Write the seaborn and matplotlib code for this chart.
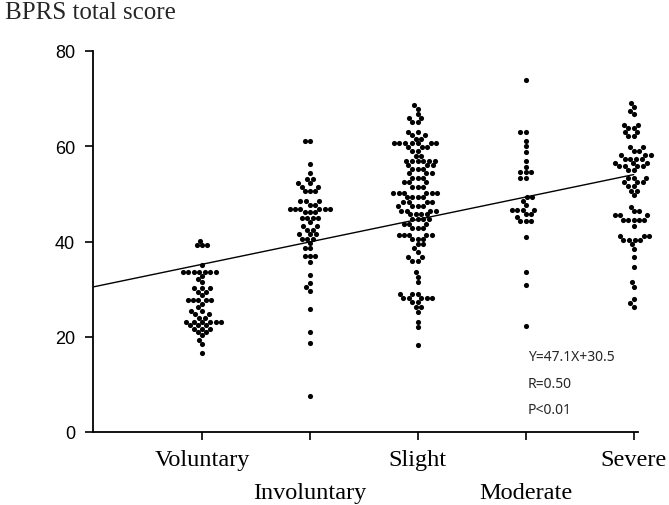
import numpy as np
import pandas as pd
import matplotlib
matplotlib.use("Agg")
import matplotlib.pyplot as plt
import seaborn as sns

categories = ["Voluntary", "Involuntary", "Slight", "Moderate", "Severe"]

# (score value, number of patients at that value)
voluntary_vals = [40.2, 39.2, 35.0, 33.7, 32.8, 32.1, 31.4, 30.2, 29.4, 28.7, 27.7, 26.9, 26.2,
                  25.5, 24.8, 24.0, 23.1, 22.4, 21.7, 21.0, 20.3, 19.4, 18.5, 16.6]
voluntary_cnts = [1, 3, 1, 7, 1, 1, 1, 3, 2, 1, 5, 1, 1,
                  2, 2, 2, 6, 3, 3, 2, 1, 1, 1, 1]

involuntary_vals = [61.0, 56.3, 54.4, 53.2, 52.3, 51.5, 50.6, 48.4, 47.7, 46.8, 46.1, 44.9, 44.0,
                    43.2, 42.4, 41.5, 40.6, 39.7, 38.6, 37.0, 35.7, 33.0, 31.3, 30.4, 29.7,
                    25.8, 21.0, 18.7, 7.6]
involuntary_cnts = [2, 1, 1, 2, 2, 2, 3, 3, 2, 6, 3, 4, 1,
                    2, 2, 3, 3, 1, 2, 3, 1, 1, 1, 1, 1,
                    1, 1, 1, 1]

slight_vals = [68.7, 67.9, 66.8, 65.9, 65.0, 63.0, 62.3, 61.6, 60.6, 59.8, 59.1, 58.0, 57.0,
               56.0, 55.3, 54.3, 53.4, 52.4, 51.5, 50.2, 49.3, 48.2, 47.4, 46.5, 45.7, 44.7,
               43.7, 42.8, 41.4, 40.5, 39.4, 38.6, 37.8, 36.7, 36.0, 33.5, 32.5, 31.4, 29.0,
               28.1, 27.3, 26.2, 25.2, 23.1, 22.0, 18.3]
slight_cnts = [1, 1, 1, 2, 2, 2, 2, 2, 7, 3, 2, 2, 6,
               3, 3, 3, 3, 3, 3, 6, 4, 4, 4, 4, 4, 4,
               3, 3, 5, 3, 2, 1, 1, 2, 2, 1, 1, 1, 3,
               5, 2, 2, 1, 1, 1, 1]

moderate_vals = [73.9, 63.0, 61.2, 60.0, 58.8, 56.8, 55.6, 54.5, 53.4, 49.3, 48.6, 47.7, 46.7,
                 45.8, 45.1, 44.2, 40.9, 33.7, 30.9, 22.3]
moderate_cnts = [1, 2, 1, 1, 1, 1, 1, 3, 2, 2, 1, 1, 4,
                 2, 1, 3, 1, 1, 1, 1]

severe_vals = [69.1, 68.2, 67.4, 66.7, 64.5, 63.8, 63.0, 62.2, 59.8, 59.0, 58.2, 57.4, 56.5,
               55.8, 55.0, 53.3, 52.4, 51.6, 50.7, 49.8, 47.2, 46.3, 45.5, 44.6, 43.3, 41.2,
               40.4, 39.5, 38.5, 36.7, 34.6, 31.4, 30.4, 27.9, 27.0, 26.3]
severe_cnts = [1, 1, 1, 1, 2, 2, 2, 2, 2, 2, 3, 4, 3,
               4, 2, 3, 3, 2, 2, 1, 1, 2, 3, 5, 1, 3,
               4, 1, 1, 1, 1, 1, 1, 1, 1, 1]

reg_slope = 47.1
reg_intercept = 30.5
reg_code_range = [0.0, 0.5]   # coded X: 0.1 per category step, Voluntary = 0.1

yticks = [0, 20, 40, 60, 80]

# ---------------------------------------------------------------
groups = [(voluntary_vals, voluntary_cnts), (involuntary_vals, involuntary_cnts),
          (slight_vals, slight_cnts), (moderate_vals, moderate_cnts),
          (severe_vals, severe_cnts)]
rows = []
for cat, (vals, cnts) in zip(categories, groups):
    for v in np.repeat(vals, cnts):
        rows.append((cat, v))
df = pd.DataFrame(rows, columns=["group", "score"])

sns.set_style("ticks")
plt.rcParams["font.family"] = ["Liberation Serif", "DejaVu Serif"]

fig = plt.figure(figsize=(6.69, 5.06), dpi=100)
W, H = 669, 506
ax = fig.add_axes([93 / W, 1 - 433 / H, (638 - 93) / W, (433 - 52) / H])

sns.swarmplot(data=df, x="group", y="score", order=categories, color="black",
              size=3.7, linewidth=0, ax=ax, clip_on=False)

# regression line
code = np.array(reg_code_range)
xpos = code * 10 - 1
ax.plot(xpos, reg_intercept + reg_slope * code, color="black", lw=1.0)

ax.set_xlim(-1.01, 4.04)
ax.set_ylim(0, 80)
ax.set_yticks(yticks)
ax.set_xlabel("")
ax.set_ylabel("")
sns.despine(ax=ax)
for s in ["left", "bottom"]:
    ax.spines[s].set_linewidth(1.3)
    ax.spines[s].set_color("black")

ax.tick_params(axis="y", direction="out", length=6, width=1.2, pad=7,
               labelsize=13, colors="black")
ax.tick_params(axis="x", direction="out", length=6, width=1.2, pad=6,
               labelsize=17.5, colors="black")
for lab in ax.get_yticklabels():
    lab.set_family(["Liberation Sans Narrow", "Liberation Sans", "DejaVu Sans"])

ax.set_xticks(range(len(categories)))
ax.set_xticklabels(categories)
for lab in ax.get_xticklabels():
    lab.set_family(["Liberation Serif", "DejaVu Serif"])
for i, t in enumerate(ax.xaxis.get_major_ticks()):
    t.set_pad(6 if i % 2 == 0 else 30)

stat_family = ["Noto Sans", "DejaVu Sans"]
ax.text(3.02, 15.8, "Y=47.1X+30.5", fontsize=10, family=stat_family,
        va="center", ha="left")
ax.text(3.02, 10.1, "R=0.50", fontsize=10, family=stat_family,
        va="center", ha="left")
ax.text(3.02, 4.8, "P<0.01", fontsize=10, family=stat_family,
        va="center", ha="left")

fig.text(5 / W, 1 - 13 / H, "BPRS total score", fontsize=18,
         family=["Liberation Serif", "DejaVu Serif"], va="center", ha="left")

fig.savefig("out.png", dpi=100)
